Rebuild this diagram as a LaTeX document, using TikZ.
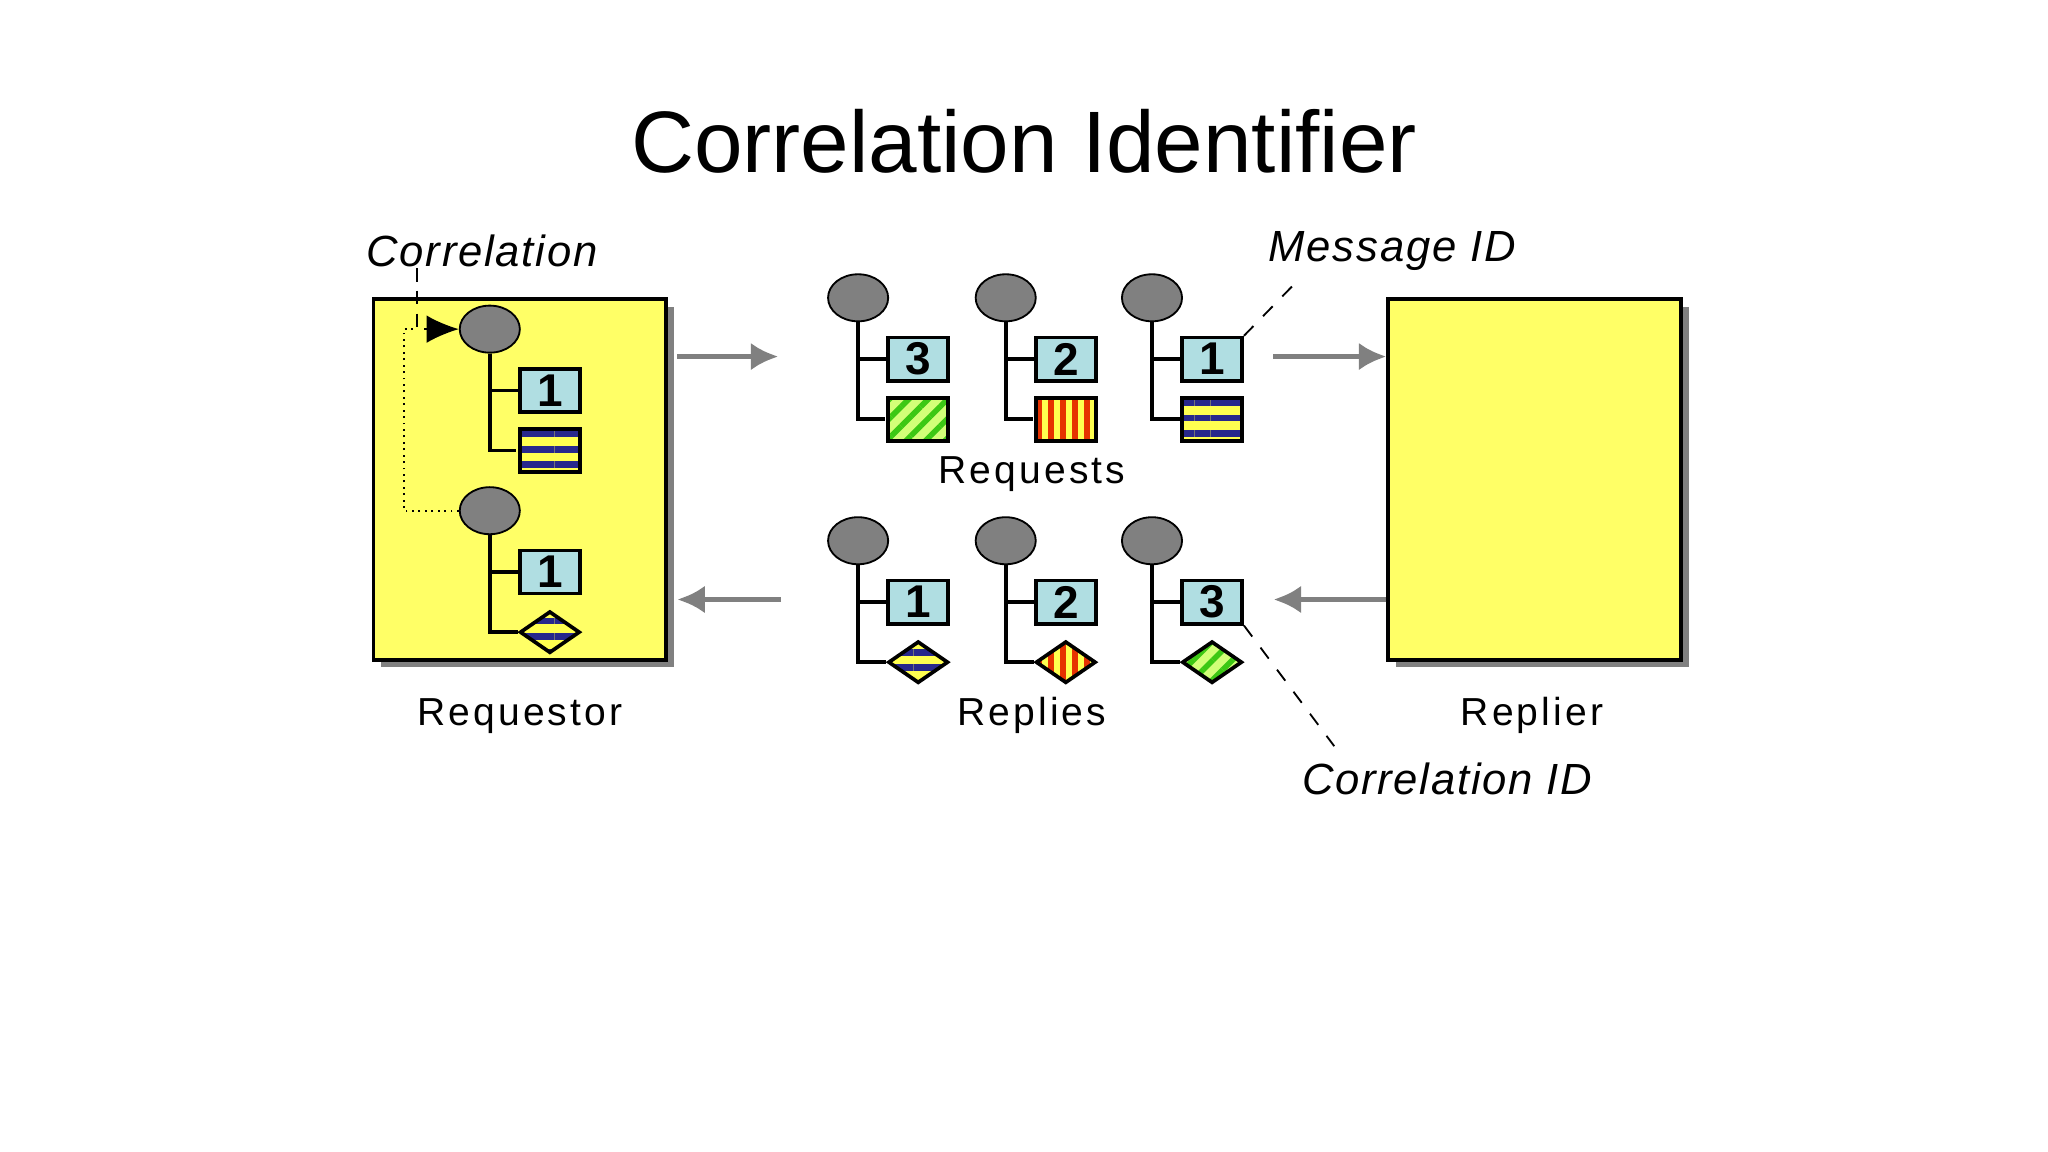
\documentclass[tikz,border=0pt]{standalone}
\usepackage{fontspec}
\setmainfont{Liberation Sans}
\usetikzlibrary{positioning,shapes.geometric,patterns.meta,arrows.meta}
\definecolor{boxyellow}{RGB}{255,255,102}
\definecolor{headgray}{RGB}{128,128,128}
\definecolor{idblue}{RGB}{176,222,226}
\definecolor{navy}{RGB}{40,40,140}
\definecolor{stripeyellow}{RGB}{255,255,80}
\definecolor{leaf}{RGB}{60,200,20}
\definecolor{lightleaf}{RGB}{210,255,120}
\definecolor{stripered}{RGB}{230,50,0}
\tikzset{
    head/.style={ellipse, draw, fill=headgray, minimum width=0.46cm, minimum height=0.36cm, inner sep=0pt},
    idbox/.style={draw, thick, fill=idblue, minimum width=0.46cm, minimum height=0.33cm, inner sep=0pt, font=\bfseries\normalsize},
    sqbody/.style={rectangle, draw, thick, minimum width=0.46cm, minimum height=0.33cm, inner sep=0pt},
    dmbody/.style={diamond, draw, thick, minimum width=0.46cm, minimum height=0.32cm, inner sep=0pt},
    navystripes/.style={preaction={fill=stripeyellow}, pattern={Lines[angle=0,distance=3.4pt,line width=1.5pt]}, pattern color=navy},
    greenstripes/.style={preaction={fill=lightleaf}, pattern={Lines[angle=45,distance=3pt,line width=1.2pt]}, pattern color=leaf},
    redstripes/.style={preaction={fill=stripeyellow}, pattern={Lines[angle=90,distance=2.6pt,line width=1.3pt]}, pattern color=stripered},
    app/.style={draw, thick, fill=boxyellow, minimum width=2.24cm, minimum height=2.76cm, inner sep=0pt},
    flow/.style={draw=headgray, line width=1.2pt, -{Latex[length=6pt,width=6pt]}},
    label/.style={font=\fontsize{8.5}{10}\selectfont\addfontfeature{LetterSpace=8}},
    note/.style={font=\fontsize{9.5}{11}\selectfont\itshape\addfontfeature{LetterSpace=4}}
}
% one message: head, id box and body
\newcommand{\msgtree}[6]{
    \node[head] (#1h) at (#2,#3) {};
    \node[idbox] (#1n) at (#2+46,#3+47) {#4};
    \node[#6,#5] (#1b) at (#2+46,#3+93) {};
    \draw[thick] (#1h.south) |- (#1n.west);
    \draw[thick] (#1h.south) |- (#1b.west);
}

\begin{document}
\begin{tikzpicture}[x=0.01cm,y=-0.01cm]
    \useasboundingbox (0,0) rectangle (1568,882);

    \node[font=\fontsize{19}{22}\selectfont] (title) at (784,108) {Correlation Identifier};

    % the two applications
    \fill[headgray] (292,235) rectangle (516,511);
    \node[app] (requestor) at (398,367) {};
    \fill[headgray] (1069,235) rectangle (1293,511);
    \node[app] (replier) at (1175,367) {};

    % messages inside the requestor
    \msgtree{qa}{375}{252}{1}{navystripes}{sqbody}
    \msgtree{qb}{375}{391}{1}{navystripes}{dmbody}

    % requests
    \msgtree{ra}{657}{228}{3}{greenstripes}{sqbody}
    \msgtree{rb}{770}{228}{2}{redstripes}{sqbody}
    \msgtree{rc}{882}{228}{1}{navystripes}{sqbody}

    % replies
    \msgtree{pa}{657}{414}{1}{navystripes}{dmbody}
    \msgtree{pb}{770}{414}{2}{redstripes}{dmbody}
    \msgtree{pc}{882}{414}{3}{greenstripes}{dmbody}

    % flows
    \coordinate (reqout) at (596,273);
    \coordinate (reqin) at (975,273);
    \coordinate (repout) at (598,459);
    \coordinate (repin) at (975,459);
    \draw[flow] ([xshift=0.07cm]requestor.east |- reqout) -- (reqout);
    \draw[flow] (reqin) -- (replier.west |- reqin);
    \draw[flow] (repout) -- ([xshift=0.07cm]requestor.east |- repout);
    \draw[flow] (replier.west |- repin) -- (repin);

    % labels
    \node[label] (reqlbl) at (398,548) {Requestor};
    \node[label] (replbl) at (1173,548) {Replier};
    \node[label] (rqslbl) at (790,363) {Requests};
    \node[label] (rpslbl) at (790,548) {Replies};
    \node[note] (corr) at (369,192) {Correlation};
    \node[note] (msgid) at (1066,192) {Message ID};
    \node[note] (corrid) at (1108,596) {Correlation ID};

    % annotations
    \coordinate (corrfoot) at (319,205);
    \coordinate (loopcorner) at (309,252);
    \draw[densely dashed, -{Latex[length=7pt,width=6pt]}] (corrfoot) |- (qah.west);
    \draw[densely dotted] (qbh.west) -| (loopcorner) -- ++(10,0);
    \draw[dashed] ([xshift=0.3cm]msgid.south west) -- (rcn.north east);
    \draw[dashed] (pcn.south east) -- ([xshift=0.37cm]corrid.north west);
\end{tikzpicture}
\end{document}
